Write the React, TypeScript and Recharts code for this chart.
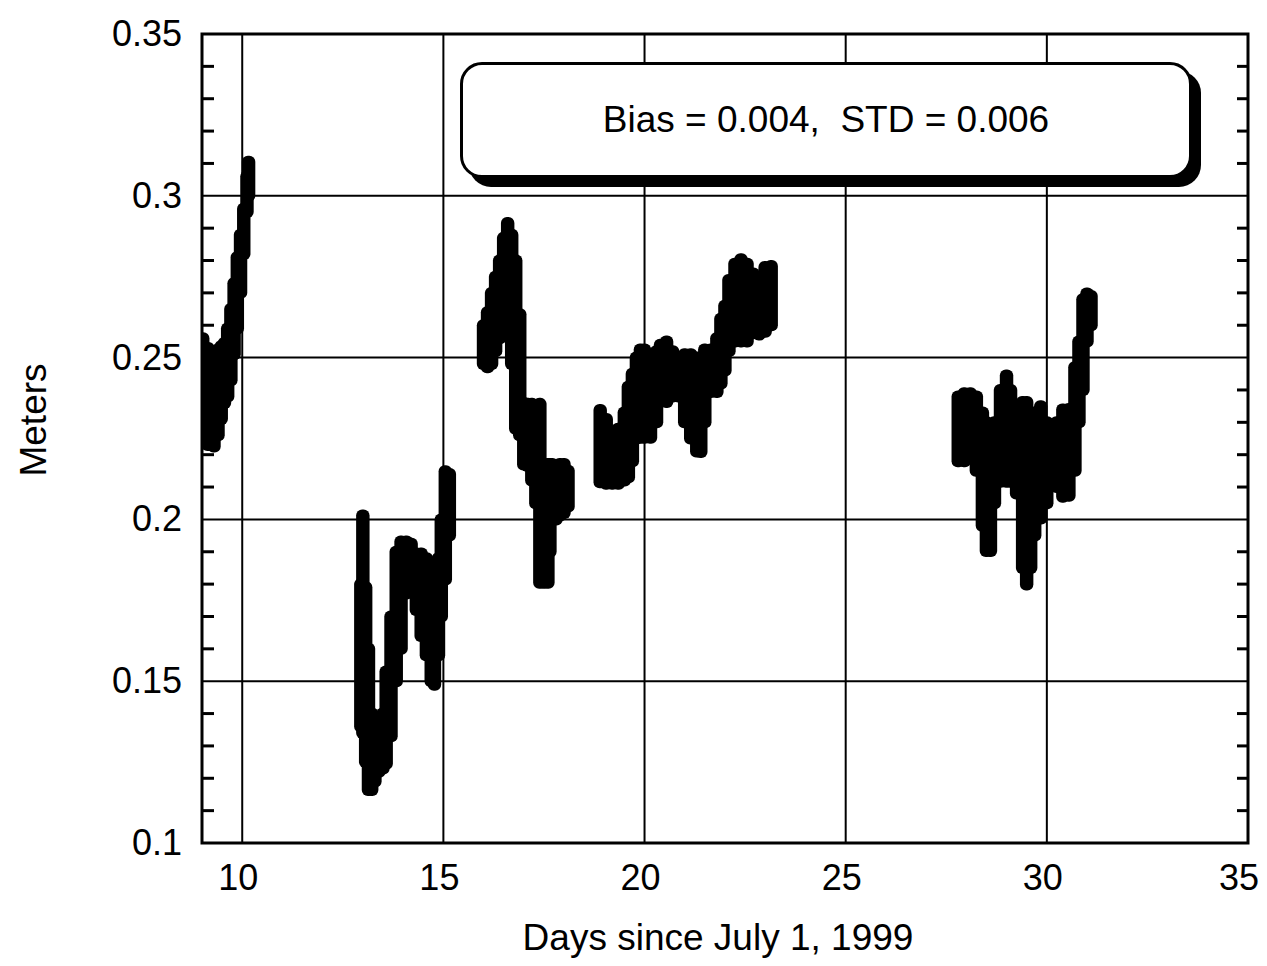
import { ComposedChart, Bar, XAxis, YAxis, CartesianGrid, ReferenceArea } from 'recharts'

const FONT = '"Liberation Sans", Arial, Helvetica, sans-serif'
const PLOT_LEFT = 194
const PLOT_RIGHT = 1240
const PLOT_BOTTOM = 835

const dayTicks = [10, 15, 20, 25, 30, 35]
const meterTicks = [0.1, 0.15, 0.2, 0.25, 0.3, 0.35]
const minorMeterTicks = [
    0.11, 0.12, 0.13, 0.14, 0.16, 0.17, 0.18, 0.19, 0.21, 0.22,
    0.23, 0.24, 0.26, 0.27, 0.28, 0.29, 0.31, 0.32, 0.33, 0.34,
]
const allMeterTicks = [...meterTicks, ...minorMeterTicks].sort((a, b) => a - b)

// each stretch of the record as the low/high edge of the dense dot cloud
const seg1Days = [9.02, 9.15, 9.30, 9.40, 9.48, 9.56, 9.64, 9.72, 9.80, 9.88, 9.96, 10.04, 10.12, 10.16]
const seg1Low = [0.2250, 0.2230, 0.2225, 0.2260, 0.2310, 0.2360, 0.2380, 0.2430, 0.2510, 0.2590, 0.2700, 0.2820, 0.2950, 0.3000]
const seg1High = [0.2560, 0.2530, 0.2520, 0.2525, 0.2535, 0.2545, 0.2590, 0.2650, 0.2730, 0.2810, 0.2880, 0.2960, 0.3060, 0.3105]

const seg2Days = [12.95, 13.00, 13.07, 13.14, 13.22, 13.30, 13.40, 13.50, 13.58, 13.70, 13.83, 13.95, 14.08, 14.20, 14.33, 14.45, 14.58, 14.70, 14.78, 14.88, 14.95, 15.05, 15.15]
const seg2Low = [0.1360, 0.1340, 0.1250, 0.1164, 0.1164, 0.1190, 0.1220, 0.1230, 0.1245, 0.1330, 0.1500, 0.1600, 0.1771, 0.1780, 0.1720, 0.1640, 0.1580, 0.1500, 0.1489, 0.1580, 0.1700, 0.1814, 0.1950]
const seg2High = [0.1800, 0.2012, 0.1790, 0.1600, 0.1400, 0.1380, 0.1370, 0.1400, 0.1530, 0.1700, 0.1900, 0.1932, 0.1932, 0.1925, 0.1895, 0.1895, 0.1880, 0.1830, 0.1800, 0.1880, 0.2000, 0.2149, 0.2140]

const seg3Days = [16.00, 16.10, 16.20, 16.30, 16.40, 16.50, 16.60, 16.70, 16.80, 16.90, 17.00, 17.10, 17.20, 17.30, 17.40, 17.50, 17.60, 17.65, 17.70, 17.80, 17.90, 18.00, 18.10]
const seg3Low = [0.2480, 0.2470, 0.2480, 0.2520, 0.2560, 0.2600, 0.2620, 0.2480, 0.2280, 0.2260, 0.2170, 0.2165, 0.2120, 0.2050, 0.1804, 0.1804, 0.1804, 0.1900, 0.2000, 0.2000, 0.2012, 0.2020, 0.2040]
const seg3High = [0.2600, 0.2640, 0.2700, 0.2750, 0.2800, 0.2870, 0.2916, 0.2880, 0.2800, 0.2634, 0.2360, 0.2357, 0.2357, 0.2350, 0.2357, 0.2171, 0.2171, 0.2171, 0.2171, 0.2160, 0.2171, 0.2171, 0.2150]

const seg4Days = [18.90, 19.05, 19.20, 19.35, 19.50, 19.60, 19.70, 19.80, 19.90, 20.00, 20.15, 20.30, 20.40, 20.55, 20.70, 20.85, 21.00, 21.15, 21.30, 21.40, 21.50, 21.65, 21.80, 21.90, 22.00, 22.10, 22.25, 22.40, 22.55, 22.70, 22.85, 23.00, 23.15]
const seg4Low = [0.2115, 0.2110, 0.2110, 0.2110, 0.2120, 0.2130, 0.2180, 0.2250, 0.2252, 0.2252, 0.2252, 0.2300, 0.2380, 0.2363, 0.2380, 0.2380, 0.2300, 0.2250, 0.2210, 0.2208, 0.2300, 0.2394, 0.2394, 0.2420, 0.2460, 0.2520, 0.2550, 0.2550, 0.2550, 0.2575, 0.2571, 0.2580, 0.2600]
const seg4High = [0.2338, 0.2310, 0.2260, 0.2280, 0.2330, 0.2410, 0.2450, 0.2500, 0.2525, 0.2525, 0.2500, 0.2520, 0.2540, 0.2550, 0.2520, 0.2500, 0.2510, 0.2510, 0.2500, 0.2500, 0.2525, 0.2525, 0.2560, 0.2620, 0.2660, 0.2740, 0.2790, 0.2804, 0.2790, 0.2760, 0.2740, 0.2780, 0.2783]

const seg5Days = [27.80, 27.95, 28.10, 28.25, 28.40, 28.50, 28.60, 28.70, 28.85, 29.00, 29.10, 29.25, 29.40, 29.50, 29.60, 29.70, 29.85, 30.00, 30.10, 30.25, 30.40, 30.55, 30.70, 30.80, 30.90, 31.00, 31.10]
const seg5Low = [0.2180, 0.2180, 0.2190, 0.2150, 0.1980, 0.1902, 0.1902, 0.2050, 0.2116, 0.2116, 0.2116, 0.2080, 0.1850, 0.1799, 0.1850, 0.1950, 0.2003, 0.2050, 0.2116, 0.2100, 0.2070, 0.2073, 0.2150, 0.2300, 0.2400, 0.2550, 0.2600]
const seg5High = [0.2380, 0.2390, 0.2390, 0.2380, 0.2330, 0.2300, 0.2220, 0.2300, 0.2400, 0.2445, 0.2400, 0.2330, 0.2363, 0.2363, 0.2300, 0.2330, 0.2350, 0.2300, 0.2290, 0.2300, 0.2340, 0.2341, 0.2470, 0.2550, 0.2680, 0.2698, 0.2690]

const segments = [
    { days: seg1Days, low: seg1Low, high: seg1High },
    { days: seg2Days, low: seg2Low, high: seg2High },
    { days: seg3Days, low: seg3Low, high: seg3High },
    { days: seg4Days, low: seg4Low, high: seg4High },
    { days: seg5Days, low: seg5Low, high: seg5High },
]

// one floating bar per day value, spanning the cloud from its low to its high edge
const rows = segments.flatMap(s =>
    s.days.map((d, i) => ({ day: d, band: [s.low[i], s.high[i]] }))
)

const DayTick = (p: any) => (
    <text
        x={p.x - (p.payload.value === 35 ? 9 : 4)}
        y={PLOT_BOTTOM + 47}
        textAnchor="middle"
        fontSize={36}
        fontFamily={FONT}
        fill="#000"
    >
        {p.payload.value}
    </text>
)

// labels on the major values, short inward ticks on both sides for the minor ones
const MeterTick = (p: any) => {
    const v = p.payload.value
    if (meterTicks.includes(v)) {
        return (
            <text x={PLOT_LEFT - 20} y={p.y + 12} textAnchor="end" fontSize={36} fontFamily={FONT} fill="#000">
                {v}
            </text>
        )
    }
    return (
        <g>
            <line x1={PLOT_LEFT} x2={PLOT_LEFT + 12} y1={p.y} y2={p.y} stroke="#000" strokeWidth={3} />
            <line x1={PLOT_RIGHT - 11} x2={PLOT_RIGHT} y1={p.y} y2={p.y} stroke="#000" strokeWidth={3} />
        </g>
    )
}

const App = () => {
    return (
        <div style={{ position: 'relative', width: 1251, height: 950, fontFamily: FONT }}>
            <ComposedChart width={1251} height={950} data={rows} margin={{ top: 26, right: 11, bottom: 0, left: 0 }}>
                <CartesianGrid stroke="#000" strokeWidth={2} horizontalValues={meterTicks} verticalValues={dayTicks} />
                <XAxis
                    dataKey="day"
                    type="number"
                    domain={[9, 35]}
                    ticks={dayTicks}
                    interval={0}
                    height={115}
                    axisLine={false}
                    tickLine={false}
                    tick={DayTick}
                    allowDataOverflow
                    label={() => (
                        <text x={710} y={942} textAnchor="middle" fontSize={37} fontFamily={FONT} fill="#000">
                            Days since July 1, 1999
                        </text>
                    )}
                />
                <YAxis
                    type="number"
                    domain={[0.1, 0.35]}
                    ticks={allMeterTicks}
                    interval={0}
                    width={194}
                    axisLine={false}
                    tickLine={false}
                    tick={MeterTick}
                    allowDataOverflow
                    label={() => (
                        <text
                            x={38}
                            y={412}
                            transform="rotate(-90 38 412)"
                            textAnchor="middle"
                            fontSize={37}
                            fontFamily={FONT}
                            fill="#000"
                        >
                            Meters
                        </text>
                    )}
                />
                <ReferenceArea x1={9} x2={35} y1={0.1} y2={0.35} fill="none" stroke="#000" strokeWidth={3} />
                <Bar
                    dataKey="band"
                    barSize={2}
                    fill="#000"
                    stroke="#000"
                    strokeWidth={12}
                    strokeLinejoin="round"
                    activeBar={false}
                    isAnimationActive={false}
                />
            </ComposedChart>
            <div
                style={{
                    position: 'absolute',
                    left: 452,
                    top: 54,
                    width: 732,
                    height: 116,
                    boxSizing: 'border-box',
                    border: '3px solid #000',
                    borderRadius: 22,
                    boxShadow: '9px 9px 0 0 #000',
                    background: '#fff',
                    display: 'flex',
                    alignItems: 'center',
                    justifyContent: 'center',
                    fontSize: 37,
                    whiteSpace: 'pre',
                }}
            >
                {'Bias = 0.004,  STD = 0.006'}
            </div>
        </div>
    )
}

export default App
